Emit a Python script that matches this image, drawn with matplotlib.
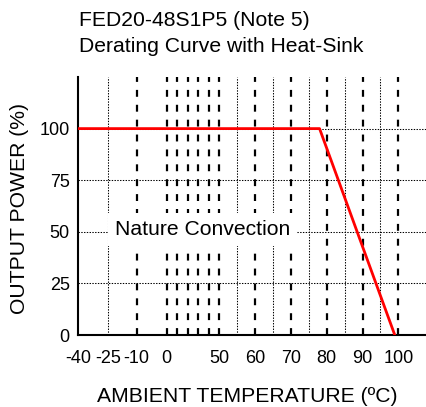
import numpy as np
import matplotlib
matplotlib.use('Agg')
import matplotlib.pyplot as plt

plt.rcParams['font.family'] = ['Liberation Sans', 'DejaVu Sans']

# derating curve data
temp = [-40, 78, 99]
power = [100, 100, 0]

# axis labels / grid positions (deg C)
xtick_vals = [-40, -25, -10, 0, 50, 60, 70, 80, 90, 100]
dashed_x = [-10, 0, 10, 20, 30, 40, 50, 60, 70, 80, 90, 100]
dotted_x = [-25, 55, 65, 75, 85, 95]
ytick_vals = [0, 25, 50, 75, 100]
dotted_y = [25, 50, 75, 100]

# piecewise axis like the original (uneven spacing)
brk_t = [-40, -25, -10, 0, 50, 100, 200]
brk_p = [0, 30, 59, 89, 142, 322, 682]

def fwd(t):
    return np.interp(t, brk_t, brk_p)

def inv(p):
    return np.interp(p, brk_p, brk_t)

fig = plt.figure(figsize=(4.27, 4.07), dpi=100)
ax = fig.add_axes([78/427, 72/407, 1 - 78/427, 258/407])
ax.set_xscale('function', functions=(fwd, inv))
ax.set_xlim(-40, 108)
ax.set_ylim(0, 125)

for x in dashed_x:
    ax.axvline(x, color='black', lw=1.6, linestyle=(0, (3.1, 3.6)), zorder=1)
for x in dotted_x:
    ax.axvline(x, color='black', lw=0.75, linestyle=(0, (1.33, 1.33)), zorder=1)
for y in dotted_y:
    ax.axhline(y, color='black', lw=0.75, linestyle=(0, (1.33, 1.33)), zorder=1)

ax.plot(temp, power, color='#ff0000', lw=2, zorder=3)

ax.text(-21.5, 51, 'Nature Convection', fontsize=15.2, va='center', ha='left',
        bbox=dict(facecolor='white', edgecolor='none', pad=5), zorder=2)

ax.set_xticks(xtick_vals)
ax.set_xticklabels([str(v) for v in xtick_vals])
ax.set_yticks(ytick_vals)
ax.tick_params(length=0, labelsize=13)
ax.tick_params(axis='x', pad=11)
ax.tick_params(axis='y', pad=6)
ax.minorticks_off()

for s in ['top', 'right']:
    ax.spines[s].set_visible(False)
ax.spines['left'].set_linewidth(1.5)
ax.spines['bottom'].set_linewidth(1.5)

fig.text(247/427, 1 - 397/407, 'AMBIENT TEMPERATURE (ºC)', fontsize=15.2, ha='center', va='center')
fig.text(20/427, 1 - 209/407, 'OUTPUT POWER (%)', fontsize=15.2, ha='center', va='center', rotation=90)
fig.text(79/427, 1 - 20/407, 'FED20-48S1P5 (Note 5)', fontsize=15.2, ha='left', va='center')
fig.text(79/427, 1 - 46/407, 'Derating Curve with Heat-Sink', fontsize=15.2, ha='left', va='center')

fig.savefig('out.png', dpi=100)
